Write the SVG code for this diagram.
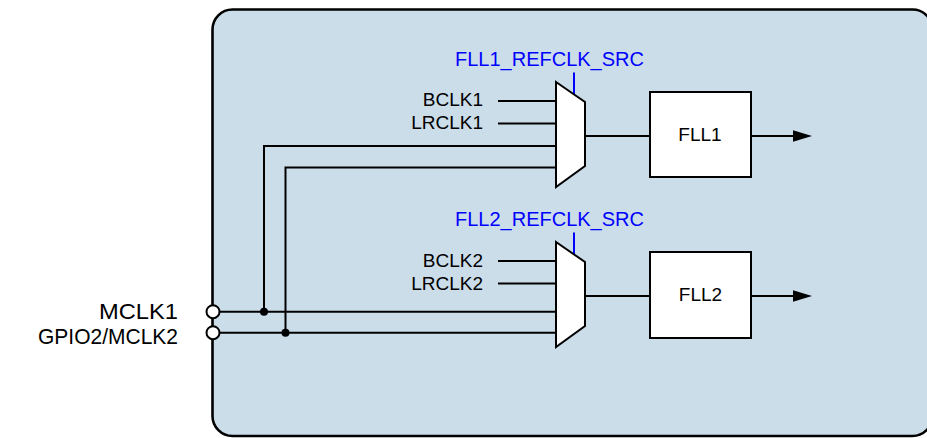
<svg xmlns="http://www.w3.org/2000/svg" width="927" height="438" viewBox="0 0 927 438">
<style>
.t{font-family:"Liberation Sans",Arial,sans-serif;font-size:19px;fill:#000}
.pin{font-size:22.5px}
.b{fill:#0000ff;font-size:20px}
.w{stroke:#000;stroke-width:2;fill:none}
.c{stroke:#0000ff;stroke-width:2;fill:none}
.blk{fill:#fff;stroke:#000;stroke-width:2}
</style>
<defs>
<marker id="arr" markerWidth="20" markerHeight="12" refX="15" refY="6" orient="auto" markerUnits="userSpaceOnUse"><path d="M0,0.3 L19,6 L0,11.7 z" fill="#000"/></marker>
</defs>
<g id="chip">
<rect x="212.5" y="9.5" width="720" height="426.5" rx="20" ry="20" fill="#cbdde9" stroke="#000" stroke-width="2.6"/>
</g>
<g id="connectors">
<path class="w" d="M498,101 H556"/>
<path class="w" d="M498,123.5 H556"/>
<path class="w" d="M264,311.7 V146 H556"/>
<path class="w" d="M285.5,332.7 V167.5 H556"/>
<path class="w" d="M213,311.7 H556"/>
<path class="w" d="M213,332.7 H556"/>
<path class="w" d="M498,261 H556"/>
<path class="w" d="M498,283.5 H556"/>
<path class="w" d="M585,136 H650"/>
<path class="w" d="M751,136 H808" marker-end="url(#arr)"/>
<path class="w" d="M585,296 H650"/>
<path class="w" d="M751,296 H808" marker-end="url(#arr)"/>
<path class="c" d="M574,72.5 V94.5"/>
<path class="c" d="M574,232.5 V254.5"/>
<circle cx="264" cy="311.7" r="4" fill="#000"/>
<circle cx="285.5" cy="332.7" r="4" fill="#000"/>
</g>
<g id="mclk1">
<circle class="blk" cx="213" cy="311.7" r="6.5"/>
<text class="t pin" x="178" y="318.5" text-anchor="end" textLength="79" lengthAdjust="spacingAndGlyphs">MCLK1</text>
</g>
<g id="mclk2">
<circle class="blk" cx="213" cy="332.7" r="6.5"/>
<text class="t pin" x="178" y="344" text-anchor="end" textLength="140" lengthAdjust="spacingAndGlyphs">GPIO2/MCLK2</text>
</g>
<g id="mux1">
<polygon class="blk" points="556,82 585,102 585,166 556,187"/>
<text class="t b" x="455" y="66">FLL1_REFCLK_SRC</text>
<text class="t" x="483" y="106" text-anchor="end">BCLK1</text>
<text class="t" x="483" y="128.5" text-anchor="end">LRCLK1</text>
</g>
<g id="fll1">
<rect class="blk" x="650" y="92" width="101" height="85"/>
<text class="t" x="700" y="141" text-anchor="middle">FLL1</text>
</g>
<g id="mux2">
<polygon class="blk" points="556,242 585,262 585,326 556,347"/>
<text class="t b" x="455" y="226">FLL2_REFCLK_SRC</text>
<text class="t" x="483" y="266.5" text-anchor="end">BCLK2</text>
<text class="t" x="483" y="289.5" text-anchor="end">LRCLK2</text>
</g>
<g id="fll2">
<rect class="blk" x="650" y="252" width="101" height="86"/>
<text class="t" x="700.5" y="301" text-anchor="middle">FLL2</text>
</g>
</svg>
